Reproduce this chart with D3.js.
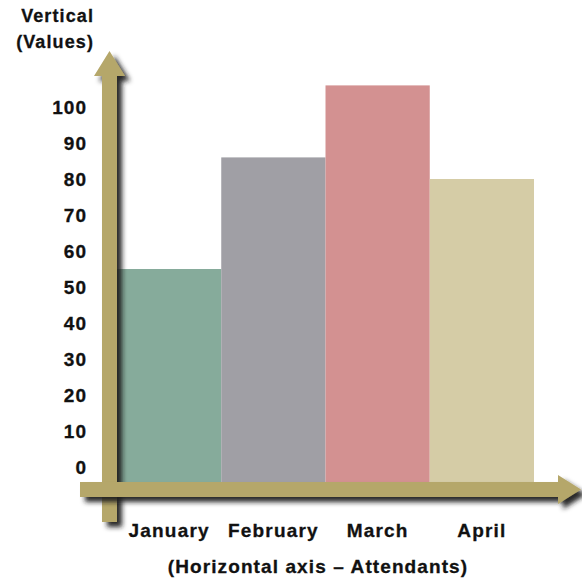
<!DOCTYPE html>
<html>
<head>
<meta charset="utf-8">
<script src="https://cdn.jsdelivr.net/npm/d3@7"></script>
<style>
  html,body{margin:0;padding:0;background:#fff;}
  svg text{font-family:"Liberation Sans",Arial,sans-serif;font-weight:bold;fill:#111;}
</style>
</head>
<body>
<div id="chart"></div>
<script>
const months = ['January','February','March','April'];
const values = [55, 86, 106, 80];
const colors = ['#86ab9b','#a09fa5','#d39191','#d5cca6'];
const yTicks = [0,10,20,30,40,50,60,70,80,90,100];
const yTitle = ['Vertical','(Values)'];
const xTitle = '(Horizontal axis \u2013 Attendants)';

const W=582,H=579;
const svg=d3.select('#chart').append('svg').attr('width',W).attr('height',H);

const defs=svg.append('defs');
const f=defs.append('filter').attr('id','sh').attr('x','-50%').attr('y','-50%').attr('width','200%').attr('height','200%');
f.append('feDropShadow').attr('dx',5).attr('dy',5).attr('stdDeviation',2.6).attr('flood-color','#1a1a1a').attr('flood-opacity',0.95);

// layout
const axisX=102, axisW=15, baseY=482;
const x=d3.scaleBand().domain(months).range([axisX+axisW,534]).padding(0);
const y=d3.scaleLinear().domain([0,100]).range([467,107]);

// bars
svg.append('g').selectAll('rect').data(months).join('rect')
  .attr('x',d=>x(d)).attr('width',x.bandwidth())
  .attr('y',(d,i)=>y(values[i])).attr('height',(d,i)=>baseY-y(values[i]))
  .attr('fill',(d,i)=>colors[i]);

const tan='#b5a76b';
// vertical arrow
svg.append('path')
  .attr('d',`M${axisX},522 L${axisX},76 L${axisX-8},76 L${axisX+7.5},51 L${axisX+23},76 L${axisX+axisW},76 L${axisX+axisW},522 Z`)
  .attr('fill',tan).attr('filter','url(#sh)');
// horizontal arrow
svg.append('path')
  .attr('d',`M80,${baseY} L558,${baseY} L558,475 L581,489.5 L558,504 L558,${baseY+axisW} L80,${baseY+axisW} Z`)
  .attr('fill',tan).attr('filter','url(#sh)');

// y tick labels
const gy=svg.append('g').attr('transform',`translate(${axisX},0)`)
  .call(d3.axisLeft(y).tickValues(yTicks).tickSize(0).tickPadding(15));
gy.select('.domain').remove();
gy.selectAll('text').attr('font-size',19).attr('letter-spacing',1).attr('fill','#111')
  .attr('stroke','#111').attr('stroke-width',0.3)
  .style('font-family','"Liberation Sans",Arial,sans-serif').style('font-weight','bold');

// x tick labels
const gx=svg.append('g').attr('transform',`translate(0,523)`)
  .call(d3.axisBottom(x).tickSize(0).tickPadding(0));
gx.select('.domain').remove();
gx.selectAll('text').attr('font-size',19).attr('letter-spacing',1.2).attr('fill','#111')
  .attr('stroke','#111').attr('stroke-width',0.3)
  .style('font-family','"Liberation Sans",Arial,sans-serif').style('font-weight','bold');

// titles
svg.append('g').selectAll('text').data(yTitle).join('text')
  .attr('x',94).attr('y',(d,i)=>22+i*26).attr('text-anchor','end')
  .attr('font-size',18).attr('letter-spacing',1.1)
  .attr('stroke','#111').attr('stroke-width',0.3).text(d=>d);
svg.append('text').attr('x',318).attr('y',573).attr('text-anchor','middle')
  .attr('font-size',19).attr('letter-spacing',1.1)
  .attr('stroke','#111').attr('stroke-width',0.3).text(xTitle);
</script>
</body>
</html>
